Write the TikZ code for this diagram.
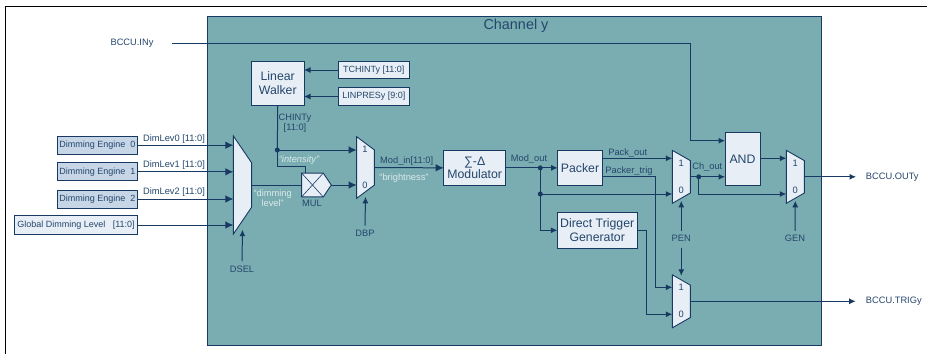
\documentclass[tikz,border=0pt]{standalone}
\usepackage{fontspec}
\setmainfont{Liberation Sans}
\usetikzlibrary{positioning,arrows.meta,calc,shapes.geometric,shapes.symbols}
\definecolor{BCCUline}{HTML}{183A62}
\definecolor{BCCUtext}{HTML}{24466C}
\definecolor{BCCUteal}{HTML}{7AADB1}
\definecolor{BCCUpale}{HTML}{E8EEF6}
\definecolor{BCCUsteel}{HTML}{C6D6E6}
\definecolor{BCCUnote}{HTML}{DCE9EB}
\tikzset{
  wire/.style={BCCUline, line width=1pt, -{Latex[length=6.5pt,width=6pt]}},
  bigwire/.style={BCCUline, line width=1pt, -{Latex[length=8pt,width=7.5pt]}},
  plainwire/.style={BCCUline, line width=1pt},
  block/.style={draw=BCCUline, fill=BCCUpale, line width=1pt, inner sep=0pt, outer sep=0pt, align=center, text=BCCUtext, font=\fontsize{12.3}{13.5}\selectfont},
  regbox/.style={block, font=\fontsize{9}{10}\selectfont},
  muxbox/.style={trapezium, draw=BCCUline, fill=BCCUpale, line width=0.9pt, inner sep=1pt, outer sep=0pt, rotate=-90, trapezium stretches=true},
  lab/.style={text=BCCUtext, inner sep=0pt, font=\fontsize{9.3}{10.5}\selectfont},
  note/.style={lab, text=BCCUnote, align=center},
  dot/.style={circle, fill=BCCUline, inner sep=0pt, minimum size=5pt},
}
\begin{document}
\begin{tikzpicture}[x=1pt,y=-1pt]
\useasboundingbox (0,0) rectangle (927,354);
\draw[black, line width=1pt] (927,6) -- (5.5,6) -- (5.5,354);
\node[draw=BCCUline, fill=BCCUteal, line width=1pt, minimum width=614.5pt, minimum height=329pt, inner sep=0pt, outer sep=0pt] (channel) at (514.25,180.5) {};
\node[lab, font=\fontsize{14.4}{16}\selectfont] (title) at (516,25.5) {Channel y};

% inputs on the left
\node[muxbox, trapezium left angle=59, trapezium right angle=59, minimum width=98pt, minimum height=18.2pt] (dsel) at (242.5,185) {};
\foreach \i/\y in {0/145.2,1/171.8,2/199}{
  \node[regbox, fill=BCCUsteel, minimum width=80.4pt, minimum height=18pt] (eng\i) at (97.5,\y) {Dimming Engine\ \ \i};
  \node[lab] (lev\i) at (174,\y-6.5) {DimLev\i\ [11:0]};
  \draw[bigwire] (eng\i.east) -- (dsel.south |- eng\i.east);
}
\node[regbox, minimum width=123.4pt, minimum height=18.3pt] (glob) at (76,225) {Global Dimming Level\ \ \ [11:0]};
\draw[bigwire] (glob.east) -- (dsel.south |- glob.east);
\node[lab] (dsellab) at (242,269.7) {DSEL};
\draw[wire] ([yshift=5pt]dsellab.north) -- ([yshift=-44.7pt]dsel.center);
\node[note] (dimlab) at (272.7,198) {``dimming\\level''};

% walker and multiplier
\node[block, minimum width=52.5pt, minimum height=44.5pt] (walker) at (277.75,83.25) {Linear\\Walker};
\node[regbox, minimum width=71pt, minimum height=17.5pt] (tch) at (373.8,70) {TCHINTy [11:0]};
\node[regbox, minimum width=71pt, minimum height=17.5pt] (lin) at (373.8,96.5) {LINPRESy [9:0]};
\draw[wire] (tch.west) -- (tch.west -| walker.east);
\draw[wire] (lin.west) -- (lin.west -| walker.east);
\node[lab, align=center] (chint) at (295,123) {CHINTy\\{}[11:0]};
\node[note, font=\itshape\fontsize{9.3}{10.5}\selectfont] (intlab) at (299,160) {``intensity''};
\node[signal, signal to=east, signal pointer angle=112, draw=BCCUline, fill=BCCUpale, line width=0.9pt, minimum width=29.6pt, minimum height=23.7pt, inner sep=0pt, outer sep=0pt] (mul) at (312.5,185) {};
\draw[BCCUline, line width=0.6pt] ($(mul.west)+(0,11.85)$) -- ($(mul.west)+(21.5,-11.85)$);
\draw[BCCUline, line width=0.6pt] ($(mul.west)+(0,-11.85)$) -- ($(mul.west)+(21.5,11.85)$);
\node[lab] (mullab) at (312,203.5) {MUL};
\draw[plainwire] (dsel.north) -- (mul.west);

% brightness multiplexer
\node[muxbox, trapezium left angle=69.5, trapezium right angle=69.5, minimum width=61.6pt, minimum height=17.7pt] (dbp) at (365.5,167.5) {};
\node[lab] (dbp1) at (365,149.3) {1};
\node[lab] (dbp0) at (365,185) {0};
\node[dot] (chdot) at (277.3,150) {};
\draw[plainwire] (walker.south) -- (chdot.center);
\draw[bigwire] (chdot.center) -- (chdot.center -| dbp.south);
\draw[plainwire] (chdot.center) -- (277.3,166.7) -| (mul.north -| 305,0);
\draw[bigwire] (mul.east) -- (mul.east -| dbp.south);
\node[lab] (dbplab) at (365,233) {DBP};
\draw[wire] ([yshift=4pt]dbplab.north) -- ([yshift=-29.3pt]dbp.center);
\node[lab] (modin) at (406.7,161.5) {Mod\_in[11:0]};
\node[note] (brlab) at (404,177.7) {``brightness''};

% modulator and packer
\node[block, minimum width=62pt, minimum height=35.7pt] (mod) at (474.7,167.85) {∑-Δ\\Modulator};
\draw[bigwire] (dbp.north) -- (mod.west);
\node[block, minimum width=44.6pt, minimum height=35.7pt] (pack) at (580,167.85) {Packer};
\node[block, minimum width=79.7pt, minimum height=36pt] (trig) at (597.2,230.3) {Direct Trigger\\Generator};
\node[lab] (modout) at (529,158.7) {Mod\_out};
\node[dot] (moddot) at (540.3,167.85) {};
\node[dot] (moddot2) at (540.3,194) {};
\draw[wire] (mod.east) -- (pack.west);
\draw[wire] (moddot.center) |- (trig.west);

% output multiplexers
\node[muxbox, trapezium left angle=72.4, trapezium right angle=72.4, minimum width=53pt, minimum height=18pt] (pen) at (681.3,176.8) {};
\node[muxbox, trapezium left angle=72.4, trapezium right angle=72.4, minimum width=53pt, minimum height=18pt] (gen) at (795.3,176.8) {};
\node[muxbox, trapezium left angle=72.4, trapezium right angle=72.4, minimum width=53pt, minimum height=18pt] (trigmux) at (681.3,301.3) {};
\foreach \m in {pen,gen,trigmux}{
  \node[lab] (\m1) at ([yshift=14pt]\m.center) {1};
  \node[lab] (\m0) at ([yshift=-13pt]\m.center) {0};
}
\node[block, minimum width=35pt, minimum height=53.4pt] (and) at (742.5,159) {AND};
\draw[wire] (moddot2.center) -- (moddot2.center -| pen.south);
\draw[wire] ([yshift=9.5pt]pack.east) -- ([yshift=9.5pt]pack.east -| pen.south);
\coordinate (trigturn) at (655,176);
\draw[wire] (trigturn -| pack.east) -- (trigturn) |- (trigmux1.west -| trigmux.south);
\coordinate (dtgturn) at (646,230.3);
\draw[wire] (trig.east) -- (dtgturn) |- (trigmux0.west -| trigmux.south);
\node[lab] (packout) at (627.7,152.7) {Pack\_out};
\node[lab] (packtrig) at (629,171) {Packer\_trig};
\node[lab] (chout) at (707.3,167) {Ch\_out};
\node[dot] (chodot) at (698.7,176.8) {};
\draw[wire] (pen.north) -- (pen.north -| and.west);
\draw[wire] (chodot.center) |- (gen.south |- moddot2);
\draw[wire] ([yshift=0.7pt]and.east) -- ([yshift=0.7pt]and.east -| gen.south);
\node[lab] (penlab) at (681.3,238.3) {PEN};
\draw[wire] ([yshift=4pt]penlab.north) -- ([yshift=-24pt]pen.center);
\draw[wire] ([yshift=-6pt]penlab.south) -- ([yshift=25.5pt]trigmux.center);
\node[lab] (genlab) at (795,238.3) {GEN};
\draw[wire] ([yshift=4pt]genlab.north) -- ([yshift=-24pt]gen.center);

% top level pins
\node[lab] (iny) at (132,43) {BCCU.INy};
\coordinate (inystart) at (172,43);
\coordinate (inyturn) at (690.3,43);
\draw[plainwire] (inystart) -- (inyturn);
\draw[wire] (inyturn) |- ([yshift=18.3pt]and.west);
\node[lab, anchor=west] (outy) at (865.7,176.8) {BCCU.OUTy};
\node[lab, anchor=west] (trigy) at (865.7,301.3) {BCCU.TRIGy};
\draw[wire] (gen.north) -- ([xshift=-9.7pt]outy.west);
\draw[wire] (trigmux.north) -- ([xshift=-10pt]trigy.west);
\end{tikzpicture}
\end{document}
